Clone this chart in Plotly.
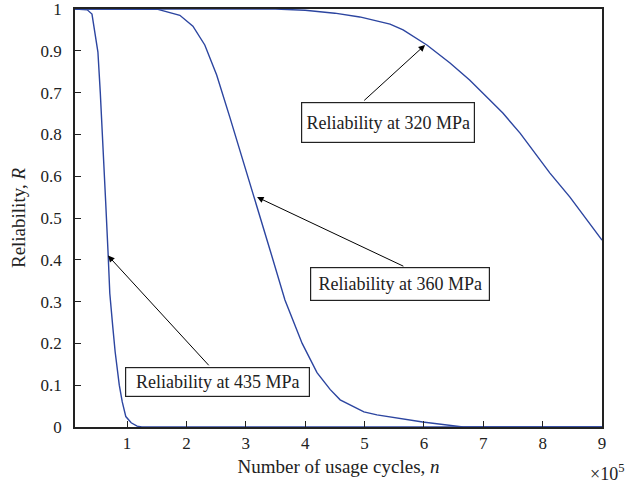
import plotly.graph_objects as go

# ---- data (n in units of 10^5 cycles) ----
n_435 = [0.125, 0.33, 0.41, 0.51, 0.55, 0.58, 0.64, 0.68, 0.71, 0.76, 0.80, 0.87, 0.92, 0.98, 1.07, 1.17, 1.25, 9.0]
r_435 = [1.0, 0.998, 0.988, 0.897, 0.80, 0.70, 0.54, 0.42, 0.32, 0.24, 0.18, 0.10, 0.06, 0.025, 0.01, 0.002, 0.0, 0.0]

n_360 = [0.125, 1.2, 1.52, 1.89, 2.11, 2.31, 2.51, 2.73, 2.90, 3.15, 3.41, 3.66, 3.95, 4.2, 4.42, 4.59, 4.99, 5.21, 5.98, 6.66, 9.0]
r_360 = [1.0, 1.0, 0.999, 0.985, 0.959, 0.914, 0.842, 0.742, 0.663, 0.55, 0.423, 0.304, 0.20, 0.13, 0.09, 0.065, 0.036, 0.029, 0.012, 0.0, 0.0]

n_320 = [0.125, 3.5, 4.0, 4.5, 4.92, 5.43, 5.65, 6.05, 6.44, 6.77, 7.11, 7.33, 7.62, 8.12, 8.46, 9.0]
r_320 = [1.0, 1.0, 0.997, 0.99, 0.981, 0.964, 0.95, 0.914, 0.871, 0.83, 0.782, 0.751, 0.703, 0.608, 0.55, 0.447]

x_ticks = [1, 2, 3, 4, 5, 6, 7, 8, 9]
y_tickvals = [0, 0.1, 0.2, 0.3, 0.4, 0.5, 0.6, 0.7, 0.8, 0.9, 1.0]
y_ticktext = ["0", "0.1", "0.2", "0.3", "0.4", "0.5", "0.6", "0.8", "0.7", "0.9", "1"]

labels = ["Reliability at 320 MPa", "Reliability at 360 MPa", "Reliability at 435 MPa"]
label_pos = [(5.39, 0.728), (5.59, 0.342), (2.52, 0.108)]
label_size = [(172, 39), (178, 32), (183, 28)]
arrow_head = [(6.02, 0.914), (3.19, 0.55), (0.68, 0.41)]
arrow_tail = [(4.97, 0.778), (5.68, 0.383), (2.40, 0.144)]

FONT = "Liberation Serif, Times New Roman, serif"
BLUE = "#2c45a0"
INK = "#222"

fig = go.Figure()
for xs, ys in [(n_435, r_435), (n_360, r_360), (n_320, r_320)]:
    fig.add_trace(go.Scatter(x=xs, y=ys, mode="lines",
                             line=dict(color=BLUE, width=1.4), showlegend=False))

annotations = []
for (hx, hy), (tx, ty) in zip(arrow_head, arrow_tail):
    annotations.append(dict(x=hx, y=hy, ax=tx, ay=ty, xref="x", yref="y",
                            axref="x", ayref="y", text="", showarrow=True,
                            arrowhead=2, arrowsize=1.3, arrowwidth=1,
                            arrowcolor="black", standoff=0, startstandoff=0))
for txt, (lx, ly), (w, h) in zip(labels, label_pos, label_size):
    annotations.append(dict(x=lx, y=ly, xref="x", yref="y", text=txt,
                            showarrow=False, font=dict(family=FONT, size=18, color=INK),
                            bgcolor="white", bordercolor=INK, borderwidth=1.2,
                            borderpad=0, width=w, height=h))
annotations.append(dict(x=1, y=0, xref="paper", yref="paper", text="×10<sup>5</sup>",
                        showarrow=False, xanchor="right", yanchor="top",
                        xshift=24, yshift=-32,
                        font=dict(family=FONT, size=18, color=INK)))

fig.update_layout(
    width=627, height=492,
    margin=dict(l=75, r=25, t=9, b=65, autoexpand=False),
    paper_bgcolor="white", plot_bgcolor="white",
    font=dict(family=FONT, size=17, color=INK),
    annotations=annotations,
    xaxis=dict(range=[0.124, 9], tickvals=x_ticks, ticks="inside", ticklen=6,
               tickcolor=INK, showline=True, linecolor=INK, linewidth=1.5,
               mirror=True, showgrid=False, zeroline=False, automargin=False,
               ticklabeloverflow="allow",
               tickfont=dict(family=FONT, size=17, color=INK),
               title=dict(text="Number of usage cycles, <i>n</i>", standoff=8,
                          font=dict(family=FONT, size=19, color=INK))),
    yaxis=dict(range=[0, 1], tickvals=y_tickvals, ticktext=y_ticktext,
               ticks="inside", ticklen=6, tickcolor=INK, showline=True,
               linecolor=INK, linewidth=1.5, mirror=True, showgrid=False,
               zeroline=False, ticklabelstandoff=8, automargin=False,
               ticklabeloverflow="allow",
               tickfont=dict(family=FONT, size=17, color=INK),
               title=dict(text="Reliability, <i>R</i>", standoff=10,
                          font=dict(family=FONT, size=19, color=INK))),
)

fig.write_html("out.html", config={"displayModeBar": False},
               post_script="document.body.style.margin='0';document.body.style.overflow='hidden';")
